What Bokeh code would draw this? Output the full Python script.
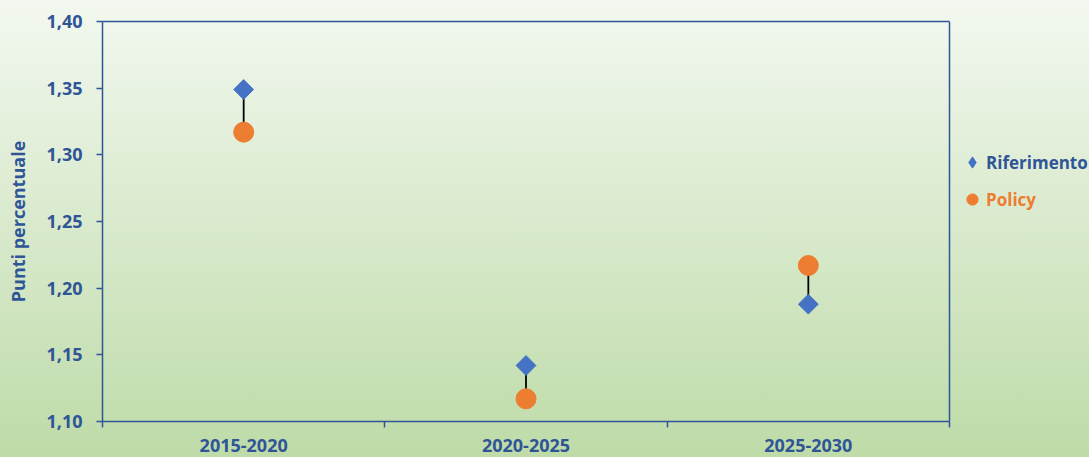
from bokeh.plotting import figure
from bokeh.models import (ColumnDataSource, FixedTicker, CustomJSTickFormatter, Legend,
                          LegendItem, Range1d, InlineStyleSheet, LinearAxis, Span)
from bokeh.embed import file_html
from bokeh.resources import INLINE
import numpy as np

# ---- data ----
categories = ["2015-2020", "2020-2025", "2025-2030"]
riferimento = [1.349, 1.142, 1.188]
policy = [1.317, 1.117, 1.217]
y_ticks = [1.10, 1.15, 1.20, 1.25, 1.30, 1.35, 1.40]
y_title = "Punti percentuale"
series_names = ["Riferimento", "Policy"]

n_cat = len(categories)
x_pos = [i + 0.5 for i in range(n_cat)]
src = ColumnDataSource(dict(x=x_pos, rif=riferimento, pol=policy, cat=categories))

BLUE_TXT = "#2f5597"
BLUE_MK = "#4472c4"
ORANGE = "#ed7d31"
FONT = "Open Sans"

# layout: plot area spans 847 px of a 987 px frame; the rest holds the legend
W, H = 1089, 457
LEFT, TOP, BOTTOM = 102, 21, 36
frame_w = W - LEFT
x_max = n_cat * frame_w / 847.0

p = figure(width=W, height=H, output_backend="svg", toolbar_location=None,
           x_range=Range1d(0, x_max), y_range=Range1d(y_ticks[0], y_ticks[-1]),
           min_border_left=LEFT, min_border_right=0, min_border_top=TOP,
           min_border_bottom=BOTTOM)

p.stylesheets = [InlineStyleSheet(css=":host { background: linear-gradient(to bottom, #f3f8f0 0%, #bedba8 100%); }")]
p.border_fill_color = None
p.background_fill_color = None
p.outline_line_color = None
p.xgrid.visible = False
p.ygrid.visible = False

# connectors and markers
p.segment(x0="x", y0="rif", x1="x", y1="pol", source=src, line_color="black", line_width=1.8)
r_rif = p.scatter(x="x", y="rif", source=src, marker="square", angle=np.pi / 4, size=14,
                  fill_color=BLUE_MK, line_color=BLUE_MK)
r_pol = p.scatter(x="x", y="pol", source=src, marker="circle", size=20,
                  fill_color=ORANGE, line_color=ORANGE)
# legend swatch for the diamond series (legend swatches ignore marker angle)
r_rif_leg = p.scatter(x="x", y="rif", source=src, marker="diamond", size=14,
                      fill_color=BLUE_MK, line_color=BLUE_MK, visible=False)

# y axis
ya = p.yaxis[0]
ya.ticker = FixedTicker(ticks=y_ticks, minor_ticks=[])
ya.formatter = CustomJSTickFormatter(code="return tick.toFixed(2).replace('.', ',');")
ya.axis_line_color = BLUE_TXT
ya.axis_line_width = 1.5
ya.major_tick_line_color = BLUE_TXT
ya.major_tick_line_width = 1.5
ya.major_tick_out = 6
ya.major_tick_in = 0
ya.minor_tick_line_color = None
ya.major_label_standoff = 14
ya.major_label_text_font = FONT
ya.major_label_text_font_style = "bold"
ya.major_label_text_font_size = "18px"
ya.major_label_text_color = BLUE_TXT
ya.axis_label = y_title
ya.axis_label_text_font = FONT
ya.axis_label_text_font_style = "bold"
ya.axis_label_text_font_size = "18px"
ya.axis_label_text_color = BLUE_TXT
ya.axis_label_standoff = 13

# x axis: labels at category centres, ticks at category boundaries
xa = p.xaxis[0]
xa.bounds = (0, n_cat)
xa.ticker = FixedTicker(ticks=x_pos, minor_ticks=list(range(n_cat + 1)))
xa.formatter = CustomJSTickFormatter(args=dict(cats=categories),
                                     code="return cats[Math.floor(tick)];")
xa.axis_line_color = BLUE_TXT
xa.axis_line_width = 1.5
xa.major_tick_line_color = None
xa.major_tick_out = 0
xa.major_tick_in = 0
xa.minor_tick_line_color = BLUE_TXT
xa.minor_tick_line_width = 1.5
xa.minor_tick_out = 6
xa.minor_tick_in = 0
xa.major_label_standoff = 11
xa.major_label_text_font = FONT
xa.major_label_text_font_style = "bold"
xa.major_label_text_font_size = "18px"
xa.major_label_text_color = BLUE_TXT

# top and right edges of the plot area
top_axis = LinearAxis(bounds=(0, n_cat), ticker=FixedTicker(ticks=[], minor_ticks=[]),
                      axis_line_color=BLUE_TXT, axis_line_width=1.5,
                      major_tick_out=0, major_tick_in=0, minor_tick_out=0, minor_tick_in=0,
                      major_label_standoff=0)
p.add_layout(top_axis, "above")
p.add_layout(Span(location=n_cat, dimension="height", line_color=BLUE_TXT, line_width=1.5))

# legends (two, for per-item text colour)
leg1 = Legend(items=[LegendItem(label=series_names[0], renderers=[r_rif_leg])],
              location=(856, 245), glyph_width=28, glyph_height=28, label_standoff=0,
              label_text_color=BLUE_TXT)
leg2 = Legend(items=[LegendItem(label=series_names[1], renderers=[r_pol])],
              location=(856, 208), glyph_width=28, glyph_height=28, label_standoff=0,
              label_text_color=ORANGE)
for lg in (leg1, leg2):
    lg.label_text_font = FONT
    lg.label_text_font_style = "bold"
    lg.label_text_font_size = "17px"
    lg.background_fill_alpha = 0
    lg.border_line_color = None
    lg.padding = 0
    lg.margin = 0
    lg.spacing = 0
    p.add_layout(lg, "center")

open("out.html", "w").write(file_html(p, INLINE))
